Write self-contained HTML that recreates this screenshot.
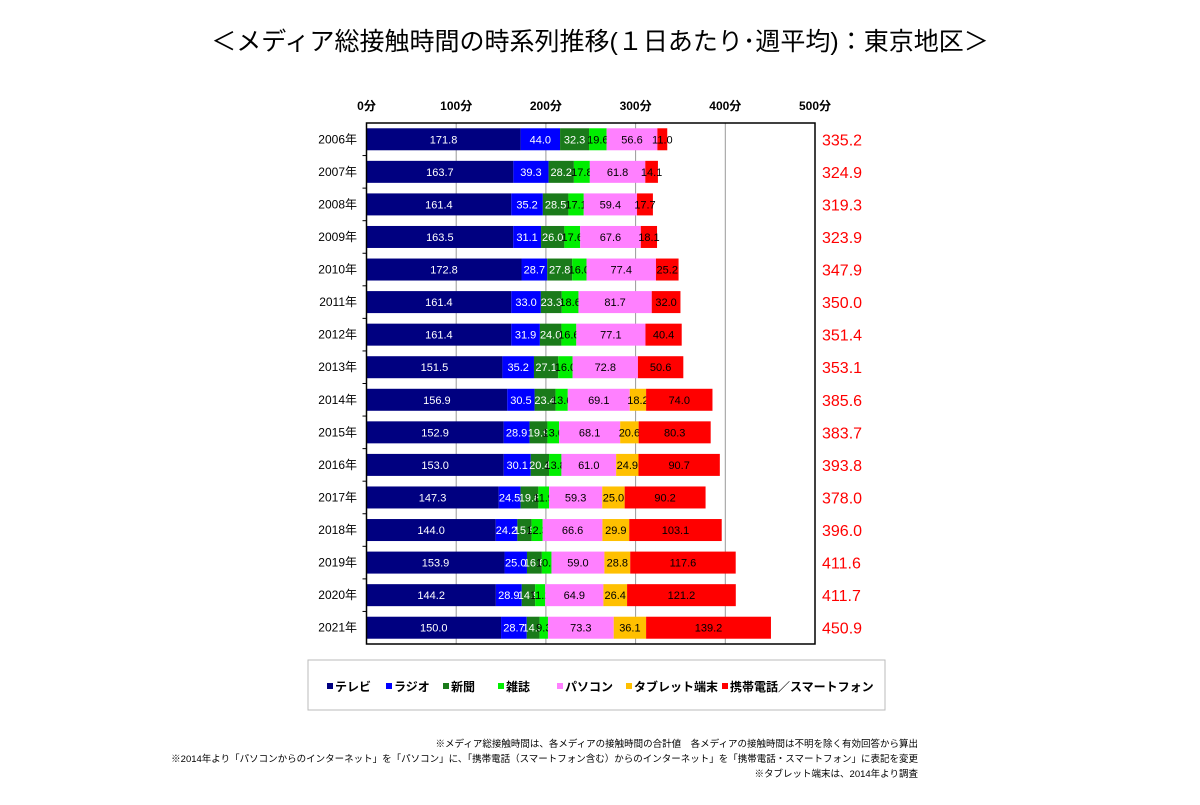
<!DOCTYPE html>
<html><head><meta charset="utf-8">
<style>
html,body{margin:0;padding:0;background:#fff;}
body{width:1200px;height:800px;overflow:hidden;font-family:"Liberation Sans","Noto Sans CJK JP",sans-serif;}
svg text{font-family:"Liberation Sans","Noto Sans CJK JP",sans-serif;}
</style></head>
<body>
<svg id="chart" width="1200" height="800" xmlns="http://www.w3.org/2000/svg">
<text x="600" y="50" text-anchor="middle" font-size="25" fill="#000">＜メディア総接触時間の時系列推移(１日あたり･週平均)：東京地区＞</text>
<g id="grid"></g>
<g id="bars"></g>
<g id="axes"></g>
<g>
<rect x="308" y="660" width="577" height="50" fill="#fff" stroke="#bbb" stroke-width="1"/>
<g id="legend"></g>
</g>
<g font-size="9.5" fill="#000" text-anchor="end">
<text x="918" y="747">※メディア総接触時間は、各メディアの接触時間の合計値　各メディアの接触時間は不明を除く有効回答から算出</text>
<text x="918" y="762">※2014年より「パソコンからのインターネット」を「パソコン」に、「携帯電話（スマートフォン含む）からのインターネット」を「携帯電話・スマートフォン」に表記を変更</text>
<text x="918" y="777">※タブレット端末は、2014年より調査</text>
</g>
</svg>
<script>
const years=["2006年","2007年","2008年","2009年","2010年","2011年","2012年","2013年","2014年","2015年","2016年","2017年","2018年","2019年","2020年","2021年"];
const seriesNames=["テレビ","ラジオ","新聞","雑誌","パソコン","タブレット端末","携帯電話／スマートフォン"];
const tv=[171.8,163.7,161.4,163.5,172.8,161.4,161.4,151.5,156.9,152.9,153.0,147.3,144.0,153.9,144.2,150.0];
const radio=[44.0,39.3,35.2,31.1,28.7,33.0,31.9,35.2,30.5,28.9,30.1,24.5,24.2,25.0,28.9,28.7];
const newspaper=[32.3,28.2,28.5,26.0,27.8,23.3,24.0,27.1,23.4,19.9,20.4,19.8,15.9,16.6,14.9,14.3];
const magazine=[19.6,17.8,17.1,17.6,16.0,18.6,16.6,16.0,13.6,13.0,13.8,11.9,12.3,10.7,11.2,9.3];
const pc=[56.6,61.8,59.4,67.6,77.4,81.7,77.1,72.8,69.1,68.1,61.0,59.3,66.6,59.0,64.9,73.3];
const tablet=[0,0,0,0,0,0,0,0,18.2,20.6,24.9,25.0,29.9,28.8,26.4,36.1];
const mobile=[11.0,14.1,17.7,18.1,25.2,32.0,40.4,50.6,74.0,80.3,90.7,90.2,103.1,117.6,121.2,139.2];
const totals=[335.2,324.9,319.3,323.9,347.9,350.0,351.4,353.1,385.6,383.7,393.8,378.0,396.0,411.6,411.7,450.9];
const xTicks=[0,100,200,300,400,500];
const xTickLabels=["0分","100分","200分","300分","400分","500分"];

const NS="http://www.w3.org/2000/svg";
const colors=["#000080","#0000ff","#1a7a1a","#00ee00","#ff80ff","#ffc000","#ff0000"];
const textColors=["#fff","#fff","#fff","#000","#000","#000","#000"];
const keys=["tv","radio","newspaper","magazine","pc","tablet","mobile"];
const series=[tv,radio,newspaper,magazine,pc,tablet,mobile];
const x0=366.5,x1=815,y0=123,y1=644;
const xs=v=>x0+v*(x1-x0)/500;
const rowStep=(y1-y0)/years.length;
const yc=i=>y0+rowStep*(i+0.5);
const barH=22;
function mk(tag,attrs,parent){const e=document.createElementNS(NS,tag);for(const k in attrs)e.setAttribute(k,attrs[k]);parent.appendChild(e);return e;}
const grid=document.getElementById('grid'),bars=document.getElementById('bars'),axes=document.getElementById('axes'),legend=document.getElementById('legend');
xTicks.forEach((t,i)=>{
  if(t>0&&t<500){const l=mk('line',{x1:xs(t),x2:xs(t),y1:y0,y2:y1,stroke:'#999','stroke-width':1},grid);
  
  }
  const tx=mk('text',{x:xs(t),y:110,'text-anchor':'middle','font-size':12,'font-weight':'bold'},axes);
  tx.textContent=xTickLabels[i];
  
  
});
const frame=mk('rect',{x:x0,y:y0,width:x1-x0,height:y1-y0,fill:'none',stroke:'#000','stroke-width':1.5},axes);


years.forEach((yr,i)=>{
  const cy=yc(i);
  let acc=0;
  series.forEach((s,j)=>{
    const v=s[i];
    if(v>0){
      const r=mk('rect',{x:xs(acc),y:cy-barH/2,width:xs(acc+v)-xs(acc),height:barH,fill:colors[j]},bars);
      
      
      const t=mk('text',{x:(xs(acc)+xs(acc+v))/2,y:cy+4,'text-anchor':'middle','font-size':11,fill:textColors[j]},bars);
      t.textContent=v.toFixed(1);
      
      
    }
    acc+=v;
  });
  const yl=mk('text',{x:357,y:cy+4,'text-anchor':'end','font-size':12},axes);
  yl.textContent=yr;
  
  
  if(i>0){const tk=mk('line',{x1:x0-4,x2:x0,y1:y0+rowStep*i,y2:y0+rowStep*i,stroke:'#000','stroke-width':1},axes);
  
  }
  const tt=mk('text',{x:822,y:cy+6,'font-size':16,fill:'#ff0000'},axes);
  tt.textContent=totals[i].toFixed(1);
  
  
});
const legX=[327,386,443,498,557,626,722];
seriesNames.forEach((n,j)=>{
  const sq=mk('rect',{x:legX[j],y:683,width:6,height:6,fill:colors[j]},legend);
  
  
  const t=mk('text',{x:legX[j]+8,y:691,'font-size':12,'font-weight':'bold'},legend);
  t.textContent=n;
  
  
});
</script>
</body></html>
